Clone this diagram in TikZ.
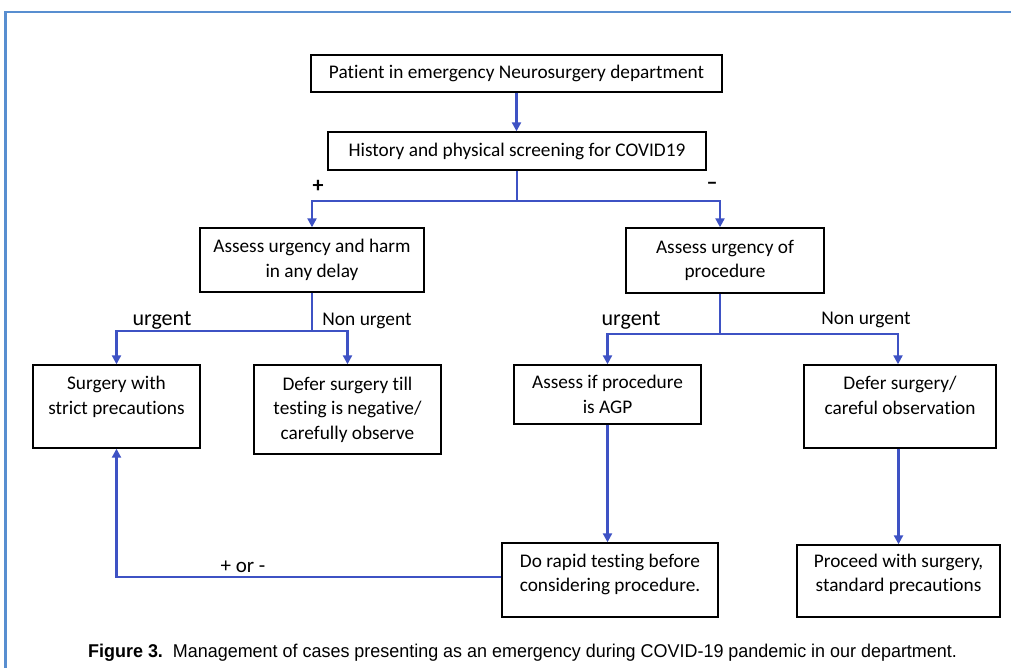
\documentclass[tikz,border=0pt]{standalone}
\usepackage{fontspec}
\setmainfont{Carlito}[Ligatures=NoCommon]
\newfontfamily\capfont{Liberation Sans}[FakeStretch=0.97]
\usetikzlibrary{arrows.meta}
\definecolor{frameblue}{RGB}{88,142,208}
\definecolor{lineblue}{RGB}{62,82,196}
\tikzset{
  box/.style={draw=black, line width=1.4pt, align=center, inner sep=2pt, font=\fontsize{19.3}{24.5}\selectfont},
  lbl/.style={font=\fontsize{19.4}{20}\selectfont, inner sep=0pt},
  conn/.style={draw=lineblue, line width=2.2pt},
  arr/.style={conn, -{Triangle[length=9pt,width=9pt]}},
}
\begin{document}
\begin{tikzpicture}[x=1pt,y=-1pt]
\useasboundingbox (0,0) rectangle (1011,668);
% frame
\coordinate (f1) at (4,12);
\coordinate (f2) at (1011,12);
\coordinate (f3) at (5.5,668);
\draw[frameblue, line width=2.5pt] (f2) -- (f1 -| f3) -- (f3);
% boxes
\node[box, minimum width=411pt, minimum height=37pt] (b1) at (516.5,73.5) {Patient in emergency Neurosurgery department};
\node[box, minimum width=378pt, minimum height=38pt] (b2) at (517,151) {History and physical screening for COVID19};
\node[box, minimum width=224pt, minimum height=64pt] (b3) at (312,260) {Assess urgency and harm\\in any delay};
\node[box, minimum width=198pt, minimum height=65pt] (b4) at (725,260.5) {Assess urgency of\\procedure};
\node[box, minimum width=167pt, minimum height=83pt] (b5) at (116.5,406.5) {Surgery with\\strict precautions\\[-2pt]\mbox{}};
\node[box, minimum width=187pt, minimum height=89pt] (b6) at (347.5,409.5) {Defer surgery till\\testing is negative/\\carefully observe};
\node[box, minimum width=187pt, minimum height=59pt] (b7) at (607.5,394.5) {Assess if procedure\\is AGP};
\node[box, minimum width=192pt, minimum height=83pt] (b8) at (900,406.5) {Defer surgery/\\careful observation\\[-2pt]\mbox{}};
\node[box, minimum width=216pt, minimum height=74pt] (b9) at (610,580) {Do rapid testing before\\considering procedure.\\[-10pt]\mbox{}};
\node[box, minimum width=203pt, minimum height=72pt] (b10) at (898.5,581) {Proceed with surgery,\\standard precautions\\[-8pt]\mbox{}};
% connectors
\draw[arr] (b1.south) -- (b1.south |- b2.north);
\coordinate (j1) at ([yshift=-30pt]b2.south);
\draw[conn] (b2.south) -- (j1);
\draw[arr] (j1) -| (b3.north);
\draw[arr] (j1) -| ([xshift=-5pt]b4.north);
\coordinate (j2) at ([yshift=-38pt]b3.south);
\draw[conn] (b3.south) -- (j2);
\draw[arr] (j2) -| (b5.north);
\draw[arr] (j2) -| (b6.north);
\coordinate (j3) at ([xshift=-5pt,yshift=-40pt]b4.south);
\draw[conn] ([xshift=-5pt]b4.south) -- (j3);
\draw[arr] (j3) -| (b7.north);
\draw[arr] (j3) -| ([xshift=-2pt]b8.north);
\draw[arr] (b7.south) -- (b7.south |- b9.north);
\draw[arr] (b10.north |- b8.south) -- (b10.north);
\draw[arr] ([yshift=3pt]b9.west) -| (b5.south);
% labels
\node[lbl, font=\fontsize{22}{22}\bfseries] (plus) at (318,186) {+};
\node[lbl, font=\fontsize{22}{22}\bfseries] (minus) at (712,186) {\textendash};
\node[lbl, font=\fontsize{22}{22}\selectfont] (u1) at (162,320) {urgent};
\node[lbl] (n1) at (367,321) {Non urgent};
\node[lbl, font=\fontsize{22}{22}\selectfont] (u2) at (631,320) {urgent};
\node[lbl] (n2) at (866,320) {Non urgent};
\node[lbl, font=\fontsize{21}{21}\selectfont] (pm) at (243,567) {+ or -};
% caption
\node[anchor=west, inner sep=0pt, font=\capfont\fontsize{18.5}{20}\selectfont] (cap) at (88,653) {\textbf{Figure 3.}\ \ Management of cases presenting as an emergency during COVID-19 pandemic in our department.};
\end{tikzpicture}
\end{document}
